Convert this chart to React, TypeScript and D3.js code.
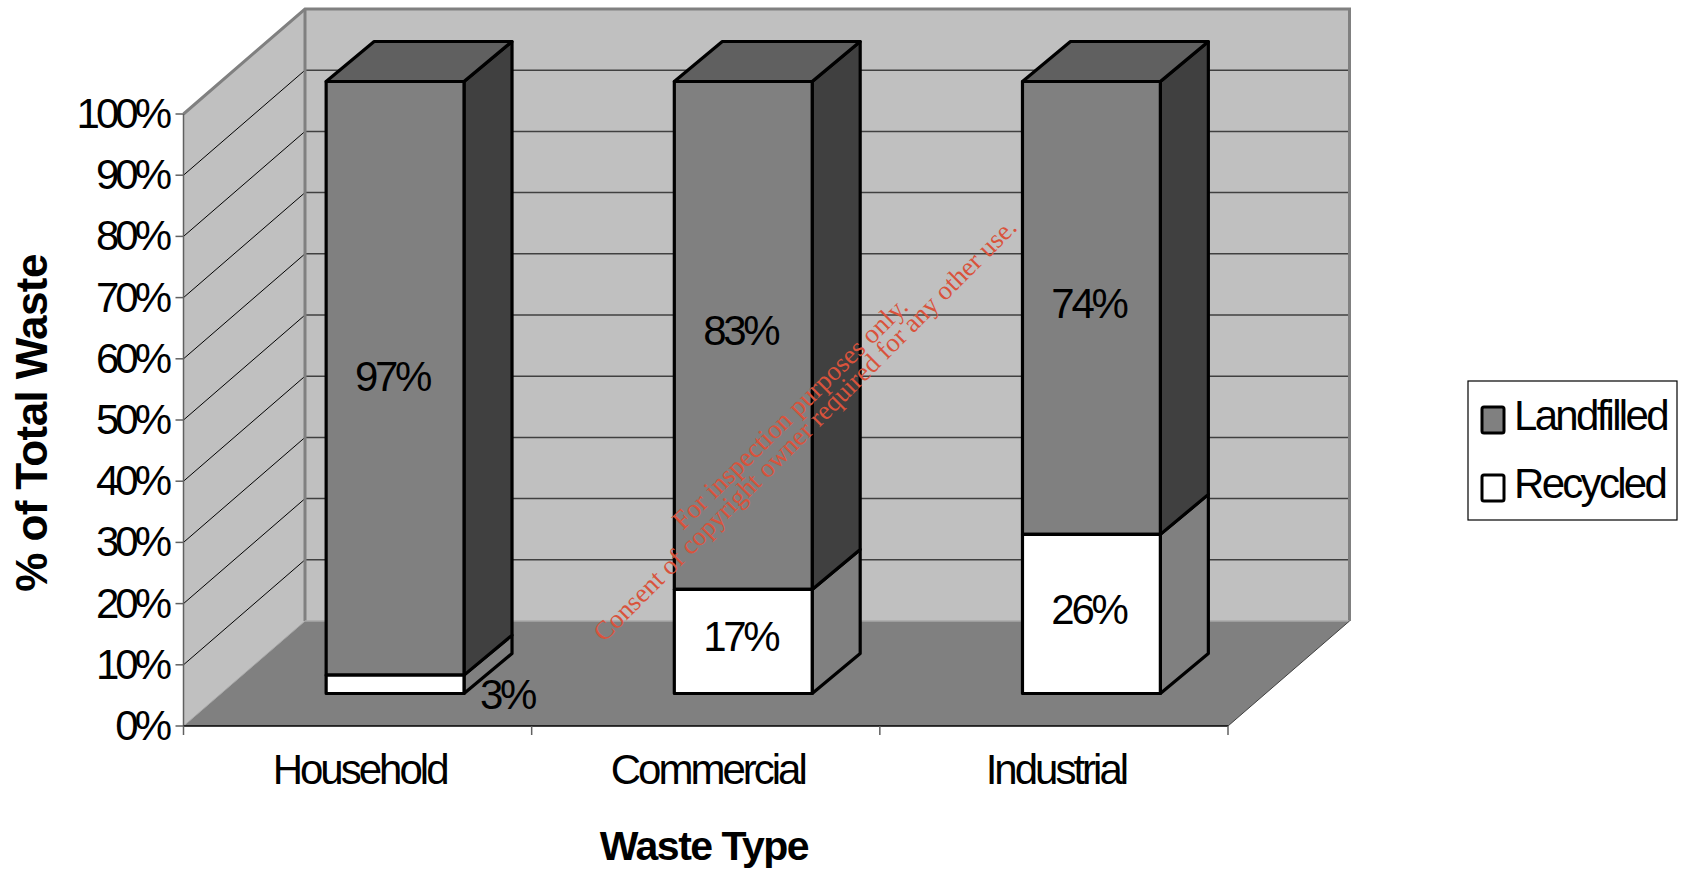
import React from "react";
import * as d3 from "d3";

// Waste composition by source, in percent of total waste
const categories = ["Household", "Commercial", "Industrial"];
const recycled = [3, 17, 26];
const landfilled = [97, 83, 74];
const percentTicks = [0, 10, 20, 30, 40, 50, 60, 70, 80, 90, 100];
const legendItems = [
  { name: "Landfilled", fill: "#808080" },
  { name: "Recycled", fill: "#ffffff" },
];
const noticeLines = [
  "For inspection purposes only.",
  "Consent of copyright owner required for any other use.",
];

const W = 1686;
const H = 871;

// Oblique projection: the plot box runs from a front plane to a back wall
const frontLeft = 183.5;
const frontRight = 1228;
const frontBase = 726;
const plotHeight = 612;
const depthX = 121.5;
const depthY = 105;
// Bars stand part way into the box and have their own, shallower depth
const barShiftX = 37.5;
const barShiftY = 32.5;
const barDepthX = 48;
const barDepthY = 40;

const LINE = "#000000";
const WALL = "#c0c0c0";
const EDGE = "#808080";
const FLOOR = "#808080";
const SIDE_DARK = "#404040";
const TOP_FACE = "#606060";
const FONT = "'Liberation Sans', Arial, sans-serif";

const xAxis = d3
  .scaleBand<string>()
  .domain(categories)
  .range([frontLeft + barShiftX, frontRight + barShiftX])
  .paddingInner(0.604)
  .paddingOuter(0.302);
const xTicks = d3
  .scalePoint<number>()
  .domain(d3.range(categories.length + 1))
  .range([frontLeft, frontRight]);

const yFront = d3.scaleLinear().domain([0, 100]).range([frontBase, frontBase - plotHeight]);
const yBar = (v: number) => yFront(v) - barShiftY;

const poly = (pts: [number, number][]) => d3.line()(pts) + "Z";

function Bar({ i }: { i: number }) {
  const name = categories[i];
  const x0 = xAxis(name)!;
  const x1 = x0 + xAxis.bandwidth();
  const yBase = yBar(0);
  const ySplit = yBar(recycled[i]);
  const yTop = yBar(recycled[i] + landfilled[i]);
  const stroke = { stroke: LINE, strokeWidth: 3.2, strokeLinejoin: "round" as const };
  return (
    <g>
      <path
        d={poly([[x1, yBase], [x1 + barDepthX, yBase - barDepthY], [x1 + barDepthX, ySplit - barDepthY], [x1, ySplit]])}
        fill="#808080"
        {...stroke}
      />
      <path
        d={poly([[x1, ySplit], [x1 + barDepthX, ySplit - barDepthY], [x1 + barDepthX, yTop - barDepthY], [x1, yTop]])}
        fill={SIDE_DARK}
        {...stroke}
      />
      <path
        d={poly([[x0, yTop], [x0 + barDepthX, yTop - barDepthY], [x1 + barDepthX, yTop - barDepthY], [x1, yTop]])}
        fill={TOP_FACE}
        {...stroke}
      />
      <path d={poly([[x0, ySplit], [x1, ySplit], [x1, yTop], [x0, yTop]])} fill="#808080" {...stroke} />
      <path d={poly([[x0, yBase], [x1, yBase], [x1, ySplit], [x0, ySplit]])} fill="#ffffff" {...stroke} />
    </g>
  );
}

export default function App() {
  const text = { fontFamily: FONT, fill: "#000" };
  const backRight = frontRight + depthX;
  const backLeft = frontLeft + depthX;
  const back = (v: number) => yFront(v) - depthY;
  return (
    <svg
      width={W}
      height={H}
      viewBox={`0 0 ${W} ${H}`}
      style={{ position: "absolute", left: 0, top: 0, background: "#fff" }}
    >
      {/* Walls and floor of the plot box */}
      <path d={poly([[backLeft, back(0)], [backRight, back(0)], [backRight, back(100)], [backLeft, back(100)]])} fill={WALL} />
      <path d={poly([[frontLeft, yFront(0)], [backLeft, back(0)], [backLeft, back(100)], [frontLeft, yFront(100)]])} fill={WALL} />
      <path d={poly([[frontLeft, yFront(0)], [backLeft, back(0)], [backRight, back(0)], [frontRight, yFront(0)]])} fill={FLOOR} />

      {/* Gridlines on the back and side walls */}
      {percentTicks.slice(1, -1).map((t) => (
        <g key={t}>
          <line x1={backLeft} x2={backRight} y1={back(t)} y2={back(t)} stroke="#404040" strokeWidth={1.5} />
          <line x1={frontLeft} x2={backLeft} y1={yFront(t)} y2={back(t)} stroke="#000" strokeWidth={1} />
        </g>
      ))}

      {/* Wall outlines */}
      <path
        d={d3.line()([[frontLeft, yFront(100)], [backLeft, back(100)], [backRight, back(100)], [backRight, back(0)]])!}
        fill="none"
        stroke={EDGE}
        strokeWidth={3}
      />
      <line x1={backLeft} x2={backLeft} y1={back(100)} y2={back(0)} stroke={EDGE} strokeWidth={3} />
      <line x1={frontLeft} x2={backLeft} y1={yFront(0)} y2={back(0)} stroke="#a8a8a8" strokeWidth={1} />
      <line x1={backLeft} x2={backRight} y1={back(0)} y2={back(0)} stroke="#a8a8a8" strokeWidth={1.5} />
      <line x1={frontRight} x2={backRight} y1={yFront(0)} y2={back(0)} stroke="#404040" strokeWidth={1} />

      {/* Axes */}
      <line x1={frontLeft} x2={frontLeft} y1={yFront(100)} y2={yFront(0)} stroke="#606060" strokeWidth={1.5} />
      <line x1={frontLeft} x2={frontRight} y1={yFront(0)} y2={yFront(0)} stroke="#000" strokeWidth={1.5} />
      {percentTicks.map((t) => (
        <g key={t}>
          <line x1={frontLeft - 8} x2={frontLeft} y1={yFront(t)} y2={yFront(t)} stroke="#606060" strokeWidth={1.5} />
          <text x={168} y={yFront(t) + 14} textAnchor="end" fontSize={42} letterSpacing={-4} {...text}>
            {t}%
          </text>
        </g>
      ))}
      {xTicks.domain().map((k) => (
        <line key={k} x1={xTicks(k)} x2={xTicks(k)} y1={frontBase} y2={frontBase + 9} stroke="#606060" strokeWidth={1.5} />
      ))}
      {categories.map((c, i) => (
        <text
          key={c}
          x={(xTicks(i)! + xTicks(i + 1)!) / 2 + 2}
          y={784}
          textAnchor="middle"
          fontSize={42}
          letterSpacing={-3}
          {...text}
        >
          {c}
        </text>
      ))}

      {/* Stacked bars */}
      {categories.map((c, i) => (
        <Bar key={c} i={i} />
      ))}

      {/* Value labels */}
      {categories.map((c, i) => {
        const cx = xAxis(c)! + xAxis.bandwidth() / 2 - 3;
        const small = recycled[i] < 5;
        const recY = (yBar(0) + yBar(recycled[i])) / 2 + 10;
        const fillY = (yBar(recycled[i]) + yBar(100)) / 2 + 10;
        return (
          <g key={c} fontSize={42} letterSpacing={-3.3}>
            <text x={cx} y={small ? fillY + 3 : fillY} textAnchor="middle" {...text}>
              {landfilled[i]}%
            </text>
            <text x={small ? cx + 115 : cx} y={small ? recY + 15 : recY} textAnchor="middle" {...text}>
              {recycled[i]}%
            </text>
          </g>
        );
      })}

      {/* Axis titles */}
      <text
        transform="translate(47,423) rotate(-90)"
        textAnchor="middle"
        fontSize={44}
        fontWeight="bold"
        fontFamily={FONT}
        letterSpacing={-0.6}
      >
        % of Total Waste
      </text>
      <text x={704} y={860} textAnchor="middle" fontSize={41} fontWeight="bold" fontFamily={FONT} letterSpacing={-1.5}>
        Waste Type
      </text>

      {/* Legend */}
      <rect x={1468} y={381} width={209} height={139} fill="#fff" stroke="#000" strokeWidth={1.2} />
      {legendItems.map((d, i) => (
        <g key={d.name}>
          <rect x={1482} y={407 + i * 68} width={22} height={26} rx={2} fill={d.fill} stroke="#000" strokeWidth={3} />
          <text x={1514} y={430 + i * 68} fontSize={42} letterSpacing={-2.7} {...text}>
            {d.name}
          </text>
        </g>
      ))}

      {/* Inspection notice across the plot */}
      <g fill="#d9533c" fontFamily="'Liberation Serif', 'Times New Roman', serif">
        <text transform="translate(683,531) rotate(-44.5)" fontSize={27}>{noticeLines[0]}</text>
        <text transform="translate(604,643) rotate(-45)" fontSize={26.6}>{noticeLines[1]}</text>
      </g>
    </svg>
  );
}
